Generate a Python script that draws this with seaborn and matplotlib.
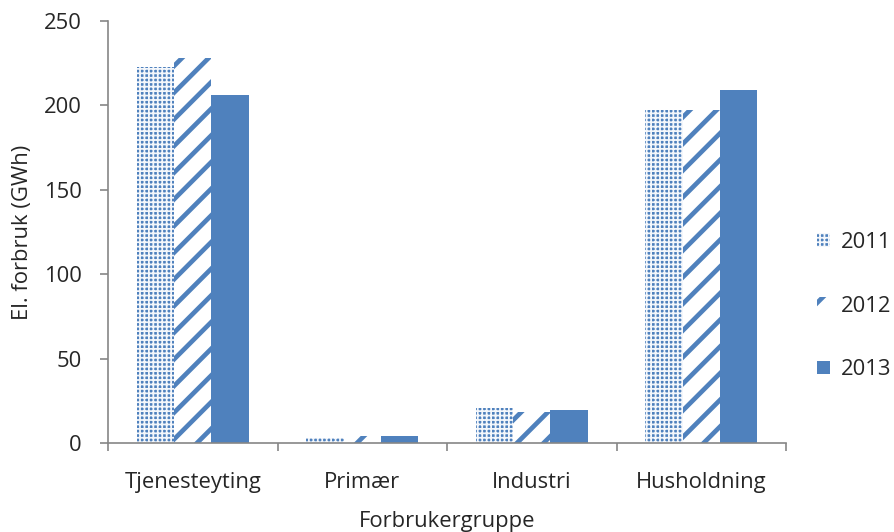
import matplotlib
matplotlib.use("Agg")
import matplotlib.pyplot as plt
import seaborn as sns
import pandas as pd

categories = ["Tjenesteyting", "Primær", "Industri", "Husholdning"]
years = ["2011", "2012", "2013"]
v2011 = [223, 3, 20.5, 197.5]
v2012 = [228, 4, 18.5, 197.5]
v2013 = [206, 4, 19.5, 209]
yticks = [0, 50, 100, 150, 200, 250]

rows = []
for yr, vals in zip(years, [v2011, v2012, v2013]):
    for c, v in zip(categories, vals):
        rows.append({"Forbrukergruppe": c, "År": yr, "GWh": v})
df = pd.DataFrame(rows)

sns.set_theme(style="white")
DPI = 80
plt.rcParams["font.family"] = ["Open Sans", "DejaVu Sans"]
plt.rcParams["hatch.linewidth"] = 4.2
PT = 72 / DPI

fig = plt.figure(figsize=(894 / DPI, 532 / DPI), dpi=DPI)
ax = fig.add_axes([108 / 894, (532 - 443) / 532, (786 - 108) / 894, (443 - 21) / 532])

blue = "#4F81BD"
sns.barplot(data=df, x="Forbrukergruppe", y="GWh", hue="År", order=categories,
            hue_order=years, palette=[blue, blue, blue], width=0.66,
            errorbar=None, ax=ax, legend=False, saturation=1)


def set_hlw(p, lw):
    if hasattr(p, "set_hatch_linewidth"):
        p.set_hatch_linewidth(lw)
    orig = p.draw

    def draw(renderer, _orig=orig, _lw=lw):
        with plt.rc_context({"hatch.linewidth": _lw}):
            _orig(renderer)
    p.draw = draw


styles = [
    dict(face="#4F81BD", edge="#F4F7FB", hatch="+++", hlw=1.6),
    dict(face="white", edge=blue, hatch="/", hlw=4.2),
    dict(face=blue, edge=blue, hatch=None, hlw=1.0),
]


def style_patch(p, st):
    p.set_facecolor(st["face"])
    p.set_edgecolor(st["edge"])
    p.set_linewidth(0)
    if st["hatch"]:
        p.set_hatch(st["hatch"])
        set_hlw(p, st["hlw"])


for cont, st in zip(ax.containers, styles):
    for p in cont.patches:
        style_patch(p, st)

ax.set_ylim(0, 250)
ax.set_xlim(-0.5, 3.5)
ax.set_yticks(yticks)
ax.set_yticklabels([str(t) for t in yticks])
ax.set_xticks([-0.5, 0.5, 1.5, 2.5, 3.5])
ax.set_xticklabels([])
ax.set_xticks(range(len(categories)), minor=True)
ax.set_xticklabels(categories, minor=True)

fs = 22 * PT
gray = "#868686"
for side in ["top", "right"]:
    ax.spines[side].set_visible(False)
for side in ["left", "bottom"]:
    ax.spines[side].set_color(gray)
    ax.spines[side].set_linewidth(1.5)
ax.tick_params(axis="y", which="major", length=8 * PT, width=1.5, color=gray,
               pad=18 * PT, labelsize=fs, direction="out", left=True)
ax.tick_params(axis="x", which="major", length=8 * PT, width=1.5, color=gray,
               direction="out", bottom=True)
ax.tick_params(axis="x", which="minor", length=0, pad=29 * PT, labelsize=fs, bottom=True)

ax.set_xlabel("Forbrukergruppe", fontsize=fs)
ax.set_ylabel("El. forbruk (GWh)", fontsize=fs)
ax.xaxis.set_label_coords(0.5, -(521 - 443) / (443 - 21), transform=ax.transAxes)
ax.xaxis.label.set_va("center")
ax.yaxis.set_label_coords(-(108 - 23) / (786 - 108), 0.5, transform=ax.transAxes)
ax.yaxis.label.set_va("center")
ax.grid(False)

handles = [cont.patches[0] for cont in ax.containers]
leg = fig.legend(handles, years, loc="center left", bbox_to_anchor=(817 / 894, (532 - 306) / 532),
                 frameon=False, fontsize=fs, handlelength=0.58, handleheight=0.58,
                 labelspacing=1.95, handletextpad=0.5, borderaxespad=0, borderpad=0)
for h, st in zip(leg.legend_handles, styles):
    if st["hatch"]:
        set_hlw(h, st["hlw"])

fig.savefig("out.png", dpi=DPI)
